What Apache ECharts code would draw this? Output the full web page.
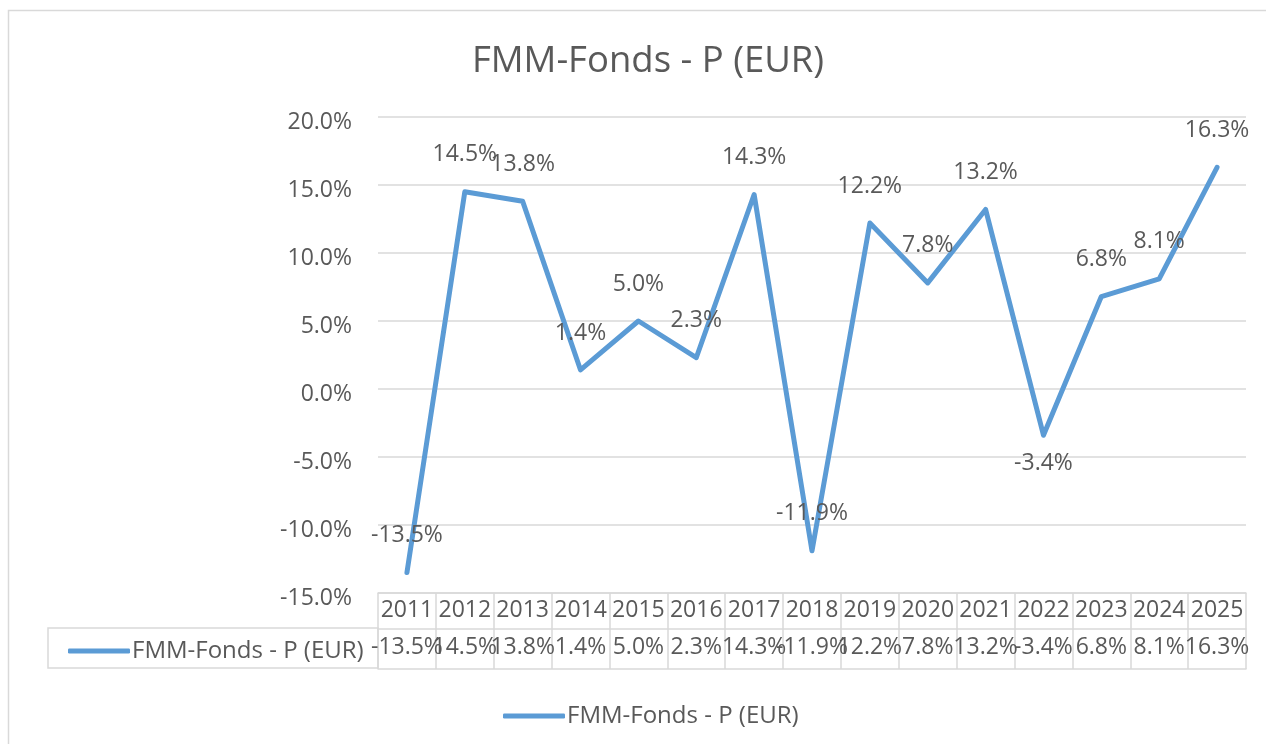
<!DOCTYPE html>
<html>
<head>
<meta charset="utf-8">
<script src="https://cdn.jsdelivr.net/npm/echarts@6/dist/echarts.min.js"></script>
<style>
  html, body { margin: 0; padding: 0; background: #fff; }
  #chart { width: 1266px; height: 744px; }
</style>
</head>
<body>
<div id="chart"></div>
<script>
var seriesName = 'FMM-Fonds - P (EUR)';
var years = ['2011', '2012', '2013', '2014', '2015', '2016', '2017', '2018',
    '2019', '2020', '2021', '2022', '2023', '2024', '2025'];
var returns = [-13.5, 14.5, 13.8, 1.4, 5.0, 2.3, 14.3, -11.9,
    12.2, 7.8, 13.2, -3.4, 6.8, 8.1, 16.3];

var txt = '#595959';
var gridCol = '#d9d9d9';
var font = 'Open Sans';

function pct(v) {
    return Number(v).toFixed(1) + '%';
}

// label under the point only for 2022
var lineData = returns.map(function (v, i) {
    if (years[i] == '2022') {
        return {value: v, label: {position: 'bottom', distance: 16}};
    }
    return v;
});

var myChart = echarts.init(document.getElementById('chart'));
myChart.setOption({
    backgroundColor: '#fff',
    textStyle: {fontFamily: font, color: txt},
    title: {
        text: seriesName,
        left: 643,
        textAlign: 'center',
        top: 38,
        textStyle: {fontFamily: font, fontSize: 36.5, fontWeight: 'normal', color: txt}
    },
    legend: [{
        // key inside the data table
        left: 63,
        top: 634,
        icon: 'roundRect',
        itemWidth: 62,
        itemHeight: 5,
        textStyle: {fontFamily: font, fontSize: 24, color: txt, padding: [0, 0, 0, -3]},
        data: [seriesName]
    }, {
        left: 498,
        top: 699,
        icon: 'roundRect',
        itemWidth: 62,
        itemHeight: 5,
        textStyle: {fontFamily: font, fontSize: 24, color: txt, padding: [0, 0, 0, -3]},
        data: [seriesName]
    }],
    grid: {left: 378, right: 20, top: 117, bottom: 151, containLabel: false},
    xAxis: [{
        type: 'category',
        data: years,
        boundaryGap: true,
        axisLine: {show: true, onZero: false, lineStyle: {color: gridCol, width: 1.5}},
        axisTick: {show: true, interval: 0, length: 76, lineStyle: {color: gridCol, width: 1.5}},
        axisLabel: {interval: 0, margin: 6, fontSize: 23, color: txt, fontFamily: font}
    }, {
        type: 'category',
        data: returns,
        position: 'bottom',
        offset: 36,
        boundaryGap: true,
        axisLine: {show: true, onZero: false, lineStyle: {color: gridCol, width: 1.5}},
        axisTick: {show: false},
        axisLabel: {interval: 0, margin: 7, fontSize: 23, color: txt, fontFamily: font,
            formatter: function (v) { return pct(v); }}
    }, {
        type: 'category',
        data: years,
        position: 'bottom',
        offset: 76,
        boundaryGap: true,
        axisLine: {show: true, onZero: false, lineStyle: {color: gridCol, width: 1.5}},
        axisTick: {show: false},
        axisLabel: {show: false}
    }],
    yAxis: {
        type: 'value',
        min: -15,
        max: 20,
        interval: 5,
        axisLine: {show: false},
        axisTick: {show: false},
        axisLabel: {
            margin: 26,
            formatter: function (v) { return '{t|' + pct(v) + '}'; },
            rich: {t: {fontSize: 23, color: txt, fontFamily: font, padding: [11, 0, 0, 0]}}
        },
        splitLine: {lineStyle: {color: gridCol, width: 1.5}}
    },
    graphic: [{
        // outer chart frame
        type: 'rect',
        shape: {x: 8.5, y: 10.5, width: 1300, height: 800},
        style: {fill: 'none', stroke: gridCol, lineWidth: 1.5},
        silent: true
    }, {
        // left cell of the data table
        type: 'rect',
        shape: {x: 48, y: 628, width: 330, height: 40},
        style: {fill: 'none', stroke: gridCol, lineWidth: 1.5},
        silent: true,
        z: -1
    }],
    series: [{
        name: seriesName,
        type: 'line',
        data: lineData,
        symbol: 'circle',
        symbolSize: 1,
        itemStyle: {color: '#5b9bd5'},
        lineStyle: {width: 5, color: '#5b9bd5', cap: 'round', join: 'round'},
        label: {
            show: true,
            position: 'top',
            distance: 25,
            fontSize: 23,
            color: txt,
            fontFamily: font,
            formatter: function (p) { return pct(p.value); }
        },
        emphasis: {disabled: true}
    }]
});
</script>
</body>
</html>
